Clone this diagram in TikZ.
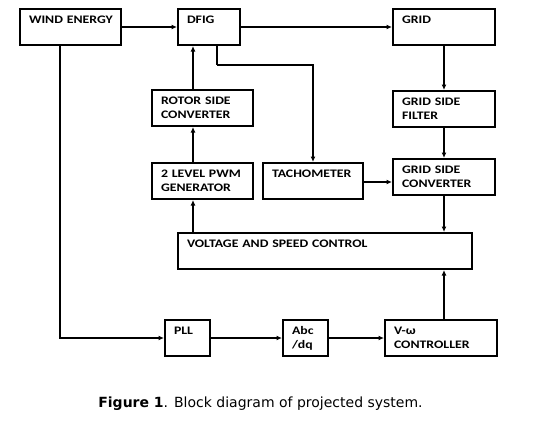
\documentclass[tikz,border=0pt]{standalone}
\usepackage{fontspec}
\newfontfamily\blkfont[FakeStretch=1.2]{Carlito}
\newfontfamily\capfont{DejaVu Sans}
\usepackage{tikz}
\usetikzlibrary{arrows.meta, positioning}

\begin{document}
\begin{tikzpicture}[
    x=1pt, y=-1pt,
    blk/.style={rectangle, draw=black, line width=2pt, minimum height=36pt, inner xsep=9pt, inner ysep=0pt,
        align=left, font=\blkfont\bfseries\fontsize{11.5}{14}\selectfont},
    arrow/.style={line width=1.9pt, -{Latex[length=5.5pt, width=5pt]}},
    line/.style={line width=1.9pt},
]
    \useasboundingbox (0,0) rectangle (556,421);

    % Top row
    \node (wind) [blk, minimum width=101pt, text width=83pt] at (70.5,27) {\mbox{WIND ENERGY}\\~};
    \node (dfig) [blk, minimum width=62pt, text width=44pt, right=55pt of wind] {DFIG\\~};
    \node (grid) [blk, minimum width=102pt, text width=84pt, right=151pt of dfig] {GRID\\~};

    % Rotor side
    \node (rsc) [blk, minimum width=101pt, text width=83pt] at (202.5,108) {ROTOR SIDE\\CONVERTER};
    \node (pwm) [blk, minimum width=101pt, text width=83pt, below=35pt of rsc] {2 LEVEL PWM\\GENERATOR};
    \node (tach) [blk, minimum width=100pt, text width=82pt, right=8pt of pwm] {TACHOMETER\\~};

    % Grid side
    \node (gsf) [blk, minimum width=102pt, text width=84pt, below=44pt of grid] {GRID SIDE\\FILTER};
    \node (gsc) [blk, minimum width=102pt, text width=84pt, below=30pt of gsf] {GRID SIDE\\CONVERTER};

    % Control
    \node (vsc) [blk, minimum width=294pt, text width=276pt] at (325,251) {VOLTAGE AND SPEED CONTROL\\~};
    \node (pll) [blk, minimum width=45pt, text width=27pt] at (187.5,338) {PLL\\~};
    \node (abc) [blk, minimum width=45pt, text width=27pt, right=71pt of pll] {Abc\\/dq};
    \node (vw) [blk, minimum width=112pt, text width=94pt, right=55pt of abc] {V-ω\\CONTROLLER};

    \coordinate (tap) at (217,65);

    % Connections
    \draw [arrow] (wind) -- (dfig);
    \draw [arrow] (dfig) -- (grid);
    \draw [arrow] (grid) -- (gsf);
    \draw [arrow] (gsf) -- (gsc);
    \draw [arrow] (gsc.south) -- (vsc.north -| gsc.south);
    \draw [arrow] (vw.north -| gsc.south) -- (vsc.south -| gsc.south);
    \draw [arrow] (tach.east |- 0,182) -- (gsc.west |- 0,182);
    \draw [line] (dfig.south -| tap) -- (tap);
    \draw [arrow] (tap) -| (tach.north);
    \draw [arrow] (rsc.north -| 193,0) -- (dfig.south -| 193,0);
    \draw [arrow] (pwm.north -| 193,0) -- (rsc.south -| 193,0);
    \draw [arrow] (vsc.north -| 193,0) -- (pwm.south -| 193,0);
    \draw [arrow] (wind.south -| 60,0) |- (pll.west);
    \draw [arrow] (pll) -- (abc);
    \draw [arrow] (abc) -- (vw);

    % Caption
    \node (cap) [font=\capfont\fontsize{14}{16}\selectfont, anchor=base] at (260.5,407) {\textbf{Figure 1}. Block diagram of projected system.};

\end{tikzpicture}
\end{document}
